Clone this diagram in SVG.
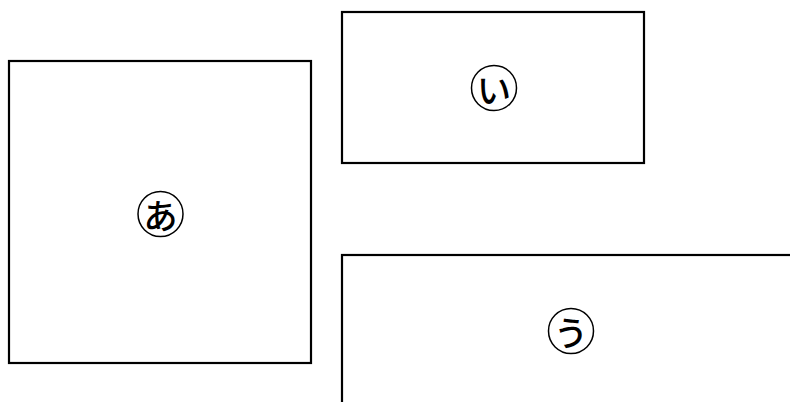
<svg xmlns="http://www.w3.org/2000/svg" width="790" height="402" viewBox="0 0 790 402">
<style>
.box{fill:#fff;stroke:#000;stroke-width:2.2}
.ring{fill:none;stroke:#000;stroke-width:1.5}
.lbl{font-family:"Noto Sans CJK JP",sans-serif;font-size:34px;font-weight:500;fill:#000;text-anchor:middle;dominant-baseline:central}
</style>
<rect width="790" height="402" fill="#fff"/>
<g id="node-a">
<rect class="box" x="9" y="61" width="302" height="302"/>
<circle class="ring" cx="160.5" cy="214" r="22.5"/>
<text class="lbl" x="160.5" y="214">あ</text>
</g>
<g id="node-i">
<rect class="box" x="342" y="12" width="302" height="151"/>
<circle class="ring" cx="494" cy="88" r="22.5"/>
<text class="lbl" x="494" y="88">い</text>
</g>
<g id="node-u">
<rect class="box" x="342" y="255" width="460" height="160"/>
<circle class="ring" cx="571" cy="331" r="22.5"/>
<text class="lbl" x="571" y="331">う</text>
</g>
<g id="connectors"></g>
</svg>
